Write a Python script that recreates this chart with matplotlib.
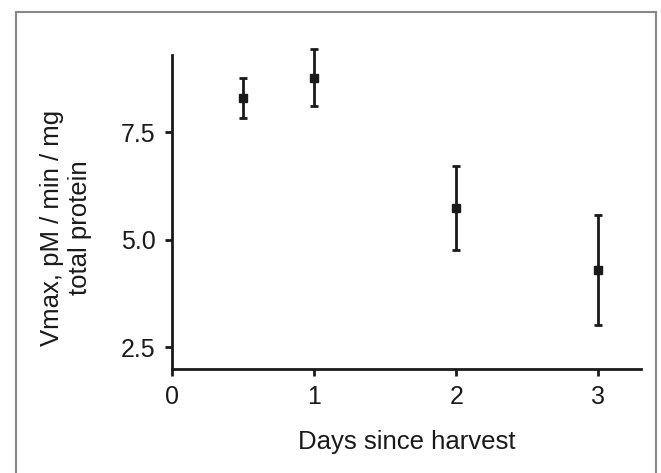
import matplotlib.pyplot as plt
from matplotlib.patches import Rectangle

plt.rcParams['font.family'] = ['Liberation Sans', 'DejaVu Sans']

# data
days = [0.5, 1, 2, 3]
vmax = [8.28, 8.76, 5.73, 4.29]
err_low = [0.46, 0.66, 0.97, 1.28]
err_high = [0.47, 0.67, 0.98, 1.28]

x_ticks = [0, 1, 2, 3]
y_ticks = [2.5, 5.0, 7.5]

fig = plt.figure(figsize=(6.61, 4.73), dpi=100)
ax = fig.add_axes([172 / 661, 1 - 368.5 / 473, (641 - 172) / 661, 322.5 / 473])

ax.errorbar(days, vmax, yerr=[err_low, err_high], fmt='s', color='#1a1a1a',
            markersize=6, elinewidth=2, capsize=3, capthick=2, clip_on=False)

ax.set_xlim(0, 3.3)
ax.set_ylim(2.0, 9.5)
ax.set_xticks(x_ticks)
ax.set_xticklabels([str(t) for t in x_ticks])
ax.set_yticks(y_ticks)
ax.set_yticklabels(['%.1f' % t for t in y_ticks])

for s in ['top', 'right']:
    ax.spines[s].set_visible(False)
ax.spines['left'].set_bounds(2.0, 9.29)
for s in ['left', 'bottom']:
    ax.spines[s].set_linewidth(2)
    ax.spines[s].set_color('#1a1a1a')
ax.tick_params(axis='both', labelsize=18, width=2, length=5, color='#1a1a1a',
               labelcolor='#1a1a1a', pad=7)

ax.set_xlabel('Days since harvest', fontsize=18.5, color='#1a1a1a', labelpad=15)
fig.text(66 / 661, 1 - 228 / 473, 'Vmax, pM / min / mg\ntotal protein',
         rotation=90, ha='center', va='center', multialignment='center',
         fontsize=18.5, color='#1a1a1a', linespacing=1.25)

# outer frame
fig.patches.append(Rectangle((16 / 661, -0.05), (656 - 16) / 661, 1.05 - 12 / 473,
                             transform=fig.transFigure, fill=False,
                             edgecolor='#888888', linewidth=1.5))

fig.savefig('out.png', dpi=100)
